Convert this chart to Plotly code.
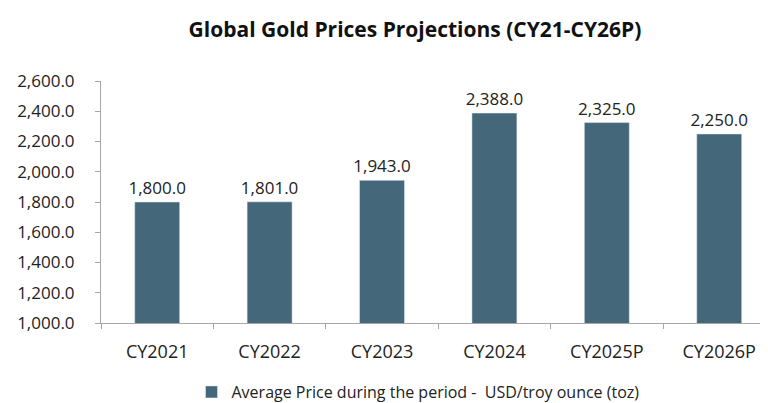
import plotly.graph_objects as go

categories = ["CY2021", "CY2022", "CY2023", "CY2024", "CY2025P", "CY2026P"]
prices = [1800.0, 1801.0, 1943.0, 2388.0, 2325.0, 2250.0]
series_name = "Average Price during the period -  USD/troy ounce (toz)"
title = "Global Gold Prices Projections (CY21-CY26P)"

font_family = "Open Sans, Liberation Sans, sans-serif"
bar_color = "#44687A"

# page body has an 8px margin, so the figure is drawn 8px right and down
W, H = 760, 395

fig = go.Figure()
fig.add_trace(go.Bar(
    x=categories, y=prices, name=series_name,
    marker=dict(color=bar_color),
    texttemplate="%{y:,.1f}", textposition="outside",
    textfont=dict(size=17, color="#222222", family=font_family),
    constraintext="none",
    cliponaxis=False, showlegend=True,
))

fig.update_layout(
    width=W, height=H,
    margin=dict(l=93, r=0, t=73, b=80, autoexpand=False),
    paper_bgcolor="white", plot_bgcolor="white",
    bargap=0.6,
    title=dict(text="<b>" + title + "</b>", x=407/W, xanchor="center",
               y=1 - 22/H, yanchor="middle",
               font=dict(size=21, color="#111111", family=font_family)),
    font=dict(family=font_family, color="#222222"),
    legend=dict(orientation="h", xref="container", yref="container",
                x=410/W, xanchor="center", y=1 - 384/H, yanchor="middle",
                font=dict(size=16, color="#222222"), itemwidth=30,
                tracegroupgap=0),
)
fig.update_xaxes(
    range=[-0.5, 5.434], showline=True, linecolor="#A6A6A6", linewidth=1,
    ticks="outside", tickson="boundaries", ticklen=5, tickcolor="#A6A6A6",
    tickfont=dict(size=18, color="#222222"), ticklabelstandoff=12,
    showgrid=False, automargin=False,
)
fig.update_yaxes(
    range=[1000, 2600], dtick=200, tickformat=",.1f",
    showline=True, linecolor="#A6A6A6", linewidth=1,
    ticks="outside", ticklen=5, tickcolor="#A6A6A6",
    tickfont=dict(size=17, color="#222222"), ticklabelstandoff=17,
    showgrid=False, zeroline=False, automargin=False,
)

fig.write_html("out.html")
